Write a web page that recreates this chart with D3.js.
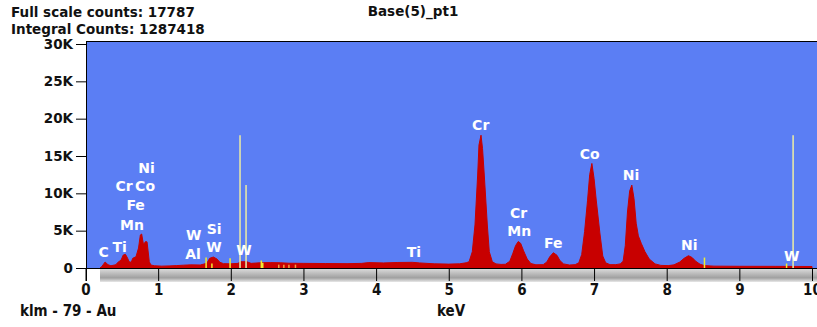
<!DOCTYPE html>
<html>
<head>
<meta charset="utf-8">
<script src="https://cdn.jsdelivr.net/npm/d3@7/dist/d3.min.js"></script>
<style>
  body { margin: 0; background: #fff; }
  svg { display: block; font-family: "DejaVu Sans", sans-serif; font-weight: bold; }
  .cond { font-family: "DejaVu Sans Condensed", "DejaVu Sans", sans-serif; font-stretch: condensed; }
</style>
</head>
<body>
<svg id="chart" width="817" height="327"></svg>
<script>
// header texts
const headerLines = ["Full scale counts: 17787", "Integral Counts: 1287418"];
const chartTitle = "Base(5)_pt1";
const xAxisTitle = "keV";
const footerNote = "klm - 79 - Au";

// axis ticks
const yTicks = [0, 5000, 10000, 15000, 20000, 25000, 30000];
const xTicks = [0, 1, 2, 3, 4, 5, 6, 7, 8, 9, 10];

// spectrum (keV, counts)
const spectrumKeV = [0.20, 0.22, 0.24, 0.27, 0.31, 0.35, 0.42, 0.44, 0.49, 0.52, 0.55, 0.58, 0.60, 0.63,
  0.65, 0.695, 0.73, 0.755, 0.773, 0.787, 0.80, 0.823, 0.847, 0.86, 0.878, 0.90, 0.95, 1.05, 1.15, 1.25,
  1.35, 1.45, 1.58, 1.67, 1.71, 1.76, 1.81, 1.85, 1.90, 2.00, 2.10, 2.13, 2.22, 2.28, 2.40, 2.55, 2.68,
  2.80, 3.00, 3.30, 3.60, 3.80, 3.90, 4.10, 4.30, 4.50, 4.60, 4.80, 5.00, 5.15, 5.24, 5.28, 5.324, 5.361,
  5.398, 5.416, 5.444, 5.465, 5.489, 5.531, 5.558, 5.60, 5.65, 5.72, 5.78, 5.84, 5.88, 5.92, 5.957, 5.99,
  6.03, 6.08, 6.13, 6.20, 6.30, 6.35, 6.39, 6.44, 6.49, 6.53, 6.58, 6.66, 6.74, 6.79, 6.83, 6.87, 6.91,
  6.94, 6.97, 7.00, 7.03, 7.08, 7.12, 7.16, 7.22, 7.30, 7.36, 7.40, 7.43, 7.46, 7.49, 7.52, 7.55, 7.58,
  7.61, 7.65, 7.70, 7.76, 7.84, 7.92, 8.02, 8.10, 8.18, 8.24, 8.30, 8.35, 8.40, 8.46, 8.52, 8.65, 9.0,
  9.5, 10.0];
const spectrumCounts = [0, 150, 400, 800, 440, 300, 440, 710, 1070, 1740, 1830, 1300, 840, 760,
  1300, 1510, 2680, 4420, 4550, 3750, 3080, 3520, 3500, 2410, 840, 400, 300, 250, 280, 320,
  380, 420, 400, 630, 1300, 1470, 1200, 760, 580, 560, 620, 840, 840, 620, 700, 720, 700,
  640, 620, 600, 580, 620, 720, 680, 740, 760, 680, 560, 520, 560, 700, 840, 2180, 5760,
  12450, 16470, 17787, 16000, 12450, 5760, 2180, 840, 550, 480, 500, 900, 1900, 3000, 3550, 3300,
  2300, 1200, 600, 430, 450, 800, 1500, 2050, 1700, 1000, 550, 400, 450, 700, 1800, 4900, 9000,
  12500, 14000, 12000, 9100, 4700, 1600, 700, 450, 450, 550, 900, 3000, 7500, 10300, 11100, 9300, 6000,
  4300, 3300, 2200, 1200, 550, 350, 320, 420, 800, 1300, 1650, 1400, 900, 500, 320, 250, 230,
  220, 200];

// element labels (text, keV, counts at text baseline)
const labelText = ["C", "Ti", "Mn", "Fe", "Cr", "Co", "Ni", "W", "Al", "Si", "W", "W", "Ti",
  "Cr", "Cr", "Mn", "Fe", "Co", "Ni", "Ni", "W"];
const labelKeV = [0.25, 0.47, 0.64, 0.69, 0.53, 0.82, 0.84, 1.49, 1.48, 1.77, 1.77, 2.18, 4.52,
  5.44, 5.96, 5.97, 6.44, 6.94, 7.51, 8.31, 9.72];
const labelCounts = [1470, 2140, 5090, 7770, 10310, 10310, 12720, 3750, 1200, 4550, 2140, 1740, 1470,
  18480, 6700, 4280, 2680, 14600, 11780, 2410, 940];

// line markers (keV, counts)
const tallMarkerKeV = [2.127, 2.21, 9.74];
const tallMarkerCounts = [17787, 11110, 17787];
const shortMarkerKeV = [1.66, 1.74, 1.99, 2.42, 2.44, 2.66, 2.73, 2.80, 2.89, 8.52, 9.65];
const shortMarkerCounts = [1400, 600, 1300, 1000, 700, 450, 450, 450, 450, 1400, 600];

const svg = d3.select("#chart");
const plotLeft = 86, plotTop = 41, plotRight = 817, plotBottom = 268;

const x = d3.scaleLinear().domain([0, 10]).range([85.5, 812]);
const y = d3.scaleLinear().domain([0, 30000]).range([268, 44]);

const defs = svg.append("defs");
defs.append("clipPath").attr("id", "plotclip")
  .append("rect")
  .attr("x", plotLeft).attr("y", plotTop)
  .attr("width", plotRight - plotLeft).attr("height", plotBottom - plotTop);

const grad = defs.append("linearGradient").attr("id", "shade")
  .attr("x1", 0).attr("y1", 0).attr("x2", 0).attr("y2", 1);
grad.append("stop").attr("offset", "0%").attr("stop-color", "#e0e0e0");
grad.append("stop").attr("offset", "70%").attr("stop-color", "#a0a0a0");
grad.append("stop").attr("offset", "100%").attr("stop-color", "#e8e8e8");

// gray shadow strip under the axis
svg.append("rect")
  .attr("x", 100).attr("y", plotBottom)
  .attr("width", plotRight - 100).attr("height", 14)
  .attr("fill", "url(#shade)");

// plot background
svg.append("rect")
  .attr("x", plotLeft).attr("y", plotTop)
  .attr("width", plotRight - plotLeft).attr("height", plotBottom - plotTop)
  .attr("fill", "#5b7ef4");

const plot = svg.append("g").attr("clip-path", "url(#plotclip)");

const spectrum = spectrumKeV.map((k, i) => ({ k: k, c: spectrumCounts[i] }));
const area = d3.area()
  .x(d => x(d.k))
  .y0(y(0))
  .y1(d => y(d.c));

plot.append("path")
  .datum(spectrum)
  .attr("d", area)
  .attr("fill", "#c80000")
  .attr("stroke", "#c80000")
  .attr("stroke-width", 1);

// markers
plot.selectAll("line.tall")
  .data(tallMarkerKeV)
  .enter().append("line")
  .attr("class", "tall")
  .attr("x1", d => x(d)).attr("x2", d => x(d))
  .attr("y1", y(0)).attr("y2", (d, i) => y(tallMarkerCounts[i]))
  .attr("stroke", "#e4e6a8")
  .attr("stroke-width", 1.6);

plot.selectAll("line.short")
  .data(shortMarkerKeV)
  .enter().append("line")
  .attr("class", "short")
  .attr("x1", d => x(d)).attr("x2", d => x(d))
  .attr("y1", y(0)).attr("y2", (d, i) => y(shortMarkerCounts[i]))
  .attr("stroke", (d, i) => shortMarkerCounts[i] > 500 ? "#f2ee30" : "#f0a040")
  .attr("stroke-width", 1.5);

// element labels
plot.selectAll("text.elem")
  .data(labelText)
  .enter().append("text")
  .attr("class", "elem")
  .attr("x", (d, i) => x(labelKeV[i]))
  .attr("y", (d, i) => y(labelCounts[i]))
  .attr("text-anchor", "middle")
  .attr("fill", "#ffffff")
  .attr("font-size", 14)
  .text(d => d);

// frame lines
svg.append("line").attr("x1", plotLeft).attr("x2", plotRight)
  .attr("y1", plotTop + 0.5).attr("y2", plotTop + 0.5)
  .attr("stroke", "#000").attr("stroke-width", 1);
svg.append("line").attr("x1", plotLeft + 0.5).attr("x2", plotLeft + 0.5)
  .attr("y1", plotTop).attr("y2", plotBottom + 13)
  .attr("stroke", "#000").attr("stroke-width", 1);
svg.append("line").attr("x1", plotLeft).attr("x2", plotRight)
  .attr("y1", plotBottom + 0.5).attr("y2", plotBottom + 0.5)
  .attr("stroke", "#000").attr("stroke-width", 1);

// y axis
const yAxis = svg.append("g")
  .attr("transform", "translate(" + plotLeft + ",0)")
  .call(d3.axisLeft(y).tickValues(yTicks)
    .tickFormat(d => d === 0 ? "0" : (d / 1000) + "K")
    .tickSize(10).tickPadding(3));
yAxis.select(".domain").remove();
yAxis.selectAll("text").attr("font-size", 13.5).attr("font-family", "DejaVu Sans").attr("font-weight", "bold").attr("fill", "#111");

// x axis
const xAxis = svg.append("g")
  .attr("transform", "translate(0," + plotBottom + ")")
  .call(d3.axisBottom(x).tickValues(xTicks).tickFormat(d3.format("d"))
    .tickSize(13).tickPadding(3));
xAxis.select(".domain").remove();
xAxis.selectAll("text").attr("class", "cond").attr("font-size", 15).attr("font-weight", "bold").attr("fill", "#111");

// texts
svg.selectAll("text.head")
  .data(headerLines)
  .enter().append("text")
  .attr("class", "head")
  .attr("x", 11)
  .attr("y", (d, i) => 17 + i * 17)
  .attr("font-size", 13.5)
  .attr("fill", "#111")
  .text(d => d);

svg.append("text")
  .attr("x", 413).attr("y", 16)
  .attr("text-anchor", "middle")
  .attr("font-size", 13.5)
  .attr("fill", "#111")
  .text(chartTitle);

svg.append("text")
  .attr("class", "cond")
  .attr("x", 451).attr("y", 316)
  .attr("text-anchor", "middle")
  .attr("font-size", 15)
  .attr("fill", "#111")
  .text(xAxisTitle);

svg.append("text")
  .attr("class", "cond")
  .attr("x", 20).attr("y", 316)
  .attr("font-size", 15)
  .attr("fill", "#111")
  .text(footerNote);
</script>
</body>
</html>
